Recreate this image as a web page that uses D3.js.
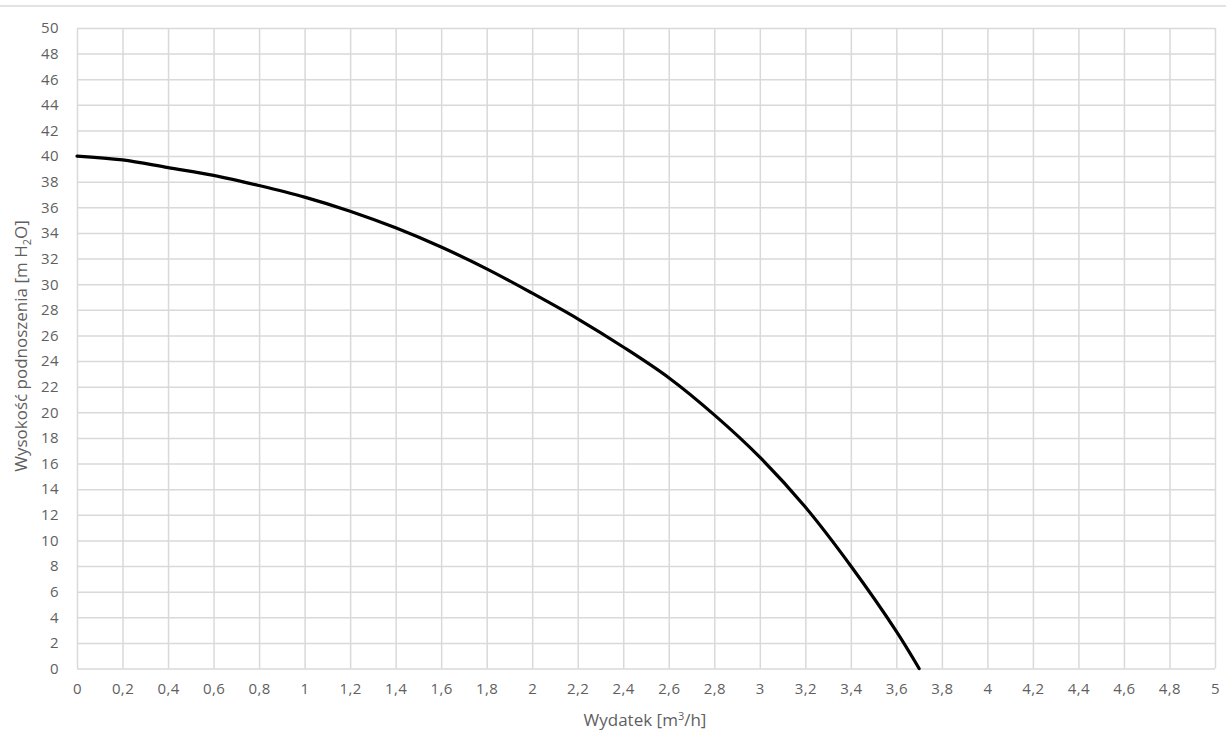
<!DOCTYPE html>
<html>
<head>
<meta charset="utf-8">
<script src="https://cdn.jsdelivr.net/npm/d3@7"></script>
<style>
  body { margin: 0; background: #fff; }
  svg { display: block; }
  .tick text { font-family: "Open Sans", "Liberation Sans", sans-serif; font-size: 15px; letter-spacing: 0.4px; fill: #5f5f5f; }
  .title { font-family: "Open Sans", "Liberation Sans", sans-serif; font-size: 17px; fill: #5f5f5f; }
</style>
</head>
<body>
<svg id="chart" width="1226" height="734"></svg>
<script>
// pump curve
const flow = [0, 0.2, 0.4, 0.6, 0.8, 1, 1.2, 1.4, 1.6, 1.8, 2, 2.2, 2.4, 2.6, 2.8, 3, 3.2, 3.4, 3.6, 3.7];
const head = [40, 39.7, 39.1, 38.5, 37.7, 36.8, 35.7, 34.4, 32.9, 31.2, 29.3, 27.3, 25.1, 22.7, 19.8, 16.5, 12.6, 8.0, 2.9, 0];

const xTicks = d3.range(0, 26).map(i => i * 0.2);
const yTicks = d3.range(0, 26).map(i => i * 2);

const svg = d3.select('#chart');
const plotLeft = 77, plotRight = 1215, plotTop = 28, plotBottom = 668.5;

const x = d3.scaleLinear().domain([0, 5]).range([plotLeft, plotRight]);
const y = d3.scaleLinear().domain([0, 50]).range([plotBottom, plotTop]);

const fmt = d => d3.format('.1~f')(d).replace('.', ',');

// thin frame line at the very top
svg.append('line')
  .attr('x1', 0).attr('x2', 1226)
  .attr('y1', 6).attr('y2', 6)
  .attr('stroke', '#e3e3e3')
  .attr('stroke-width', 2);

// horizontal grid + y labels
const yAxis = svg.append('g')
  .attr('transform', 'translate(' + plotLeft + ',0)')
  .call(d3.axisLeft(y).tickValues(yTicks).tickFormat(fmt).tickSize(-(plotRight - plotLeft)).tickPadding(18));

// vertical grid + x labels
const xAxis = svg.append('g')
  .attr('transform', 'translate(0,' + plotBottom + ')')
  .call(d3.axisBottom(x).tickValues(xTicks).tickFormat(fmt).tickSize(-(plotBottom - plotTop)).tickPadding(15));

[yAxis, xAxis].forEach(function (g) {
  g.select('.domain').remove();
  g.selectAll('.tick line')
    .attr('stroke', '#d9d9d9')
    .attr('stroke-width', 1.5);
});

// curve
const line = d3.line()
  .x(function (d, i) { return x(flow[i]); })
  .y(function (d) { return y(d); })
  .curve(d3.curveCatmullRom);

svg.append('path')
  .datum(head)
  .attr('d', line)
  .attr('fill', 'none')
  .attr('stroke', '#000')
  .attr('stroke-width', 3.2)
  .attr('stroke-linecap', 'round');

// axis titles
const xt = svg.append('text')
  .attr('class', 'title')
  .attr('x', 645).attr('y', 726)
  .attr('text-anchor', 'middle');
xt.append('tspan').text('Wydatek [m');
xt.append('tspan').attr('dy', -6).attr('font-size', 11).text('3');
xt.append('tspan').attr('dy', 6).text('/h]');

const yt = svg.append('text')
  .attr('class', 'title')
  .attr('transform', 'translate(27,346) rotate(-90)')
  .attr('text-anchor', 'middle');
yt.append('tspan').text('Wysokość podnoszenia  [m H');
yt.append('tspan').attr('dy', 4).attr('font-size', 11).text('2');
yt.append('tspan').attr('dy', -4).text('O]');
</script>
</body>
</html>
